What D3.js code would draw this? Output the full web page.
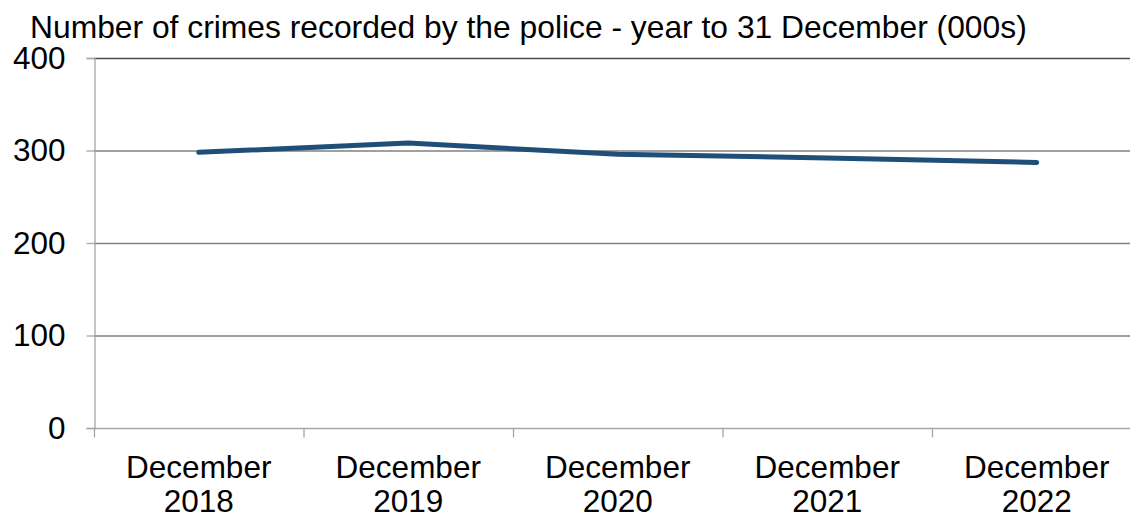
<!DOCTYPE html>
<html>
<head>
<meta charset="utf-8">
<script src="https://cdn.jsdelivr.net/npm/d3@7"></script>
<style>
  html, body { margin: 0; padding: 0; background: #fff; overflow: hidden; }
  svg { display: block; font-family: "Liberation Sans", Arial, sans-serif; }
</style>
</head>
<body>
<div id="chart"></div>
<script>
// recorded crime, year to 31 December (thousands)
const categories = ['December 2018', 'December 2019', 'December 2020', 'December 2021', 'December 2022'];
const crimes = [298, 308, 296, 292, 287];
const yTicks = [0, 100, 200, 300, 400];
const title = 'Number of crimes recorded by the police - year to 31 December (000s)';

const W = 1130, H = 514;
const margin = { top: 58, left: 94, bottom: 86 };
const plotH = H - margin.top - margin.bottom;   // 370
const band = 209.5;
const fontSize = '31.5px';

const svg = d3.select('#chart')
  .append('svg')
  .attr('width', W)
  .attr('height', H);

const x = d3.scaleBand()
  .domain(categories)
  .range([margin.left, margin.left + band * categories.length]);

const y = d3.scaleLinear()
  .domain([0, 400])
  .range([margin.top + plotH, margin.top]);

// gridlines
svg.append('g')
  .selectAll('line')
  .data(yTicks.filter(d => d > 0))
  .join('line')
  .attr('x1', margin.left)
  .attr('x2', W)
  .attr('y1', d => y(d) + 0.5)
  .attr('y2', d => y(d) + 0.5)
  .attr('stroke', d => d === 400 ? '#4a4a4a' : '#808080')
  .attr('stroke-width', 1.3);

// y axis
const yAxis = svg.append('g')
  .attr('transform', `translate(${margin.left + 0.5},0)`)
  .call(d3.axisLeft(y).tickValues(yTicks).tickSize(8).tickPadding(21));
yAxis.select('.domain').attr('stroke', '#a6a6a6').attr('stroke-width', 1.3);
yAxis.selectAll('line').attr('stroke', '#a6a6a6').attr('stroke-width', 1.3);
yAxis.selectAll('text')
  .attr('fill', '#000')
  .attr('font-size', fontSize)
  .attr('font-family', '"Liberation Sans", Arial, sans-serif');

// x axis (ticks at category boundaries)
const xAxisG = svg.append('g')
  .attr('transform', `translate(0,${y(0) + 0.5})`);
xAxisG.append('line')
  .attr('x1', margin.left).attr('x2', W)
  .attr('stroke', '#a6a6a6').attr('stroke-width', 1.3);
xAxisG.selectAll('.tick')
  .data(categories)
  .join('line')
  .attr('class', 'tick')
  .attr('x1', d => x(d) + 0.5)
  .attr('x2', d => x(d) + 0.5)
  .attr('y1', 0)
  .attr('y2', 9)
  .attr('stroke', '#a6a6a6')
  .attr('stroke-width', 1.3);

const labels = xAxisG.selectAll('.lbl')
  .data(categories)
  .join('text')
  .attr('class', 'lbl')
  .attr('text-anchor', 'middle')
  .attr('font-size', fontSize)
  .attr('fill', '#000');
labels.each(function(d) {
  const parts = d.split(' ');
  const t = d3.select(this);
  const cx = x(d) + x.bandwidth() / 2;
  t.append('tspan').attr('x', cx).attr('y', 49).text(parts[0]);
  t.append('tspan').attr('x', cx).attr('y', 83).text(parts[1]);
});

// series line
const line = d3.line()
  .x((d, i) => x(categories[i]) + x.bandwidth() / 2)
  .y(d => y(d));

svg.append('path')
  .datum(crimes)
  .attr('d', line)
  .attr('fill', 'none')
  .attr('stroke', '#1f4e79')
  .attr('stroke-width', 5)
  .attr('stroke-linecap', 'round')
  .attr('stroke-linejoin', 'round');

// title
svg.append('text')
  .attr('x', 30)
  .attr('y', 38)
  .attr('font-size', '31.8px')
  .attr('fill', '#000')
  .text(title);
</script>
</body>
</html>
